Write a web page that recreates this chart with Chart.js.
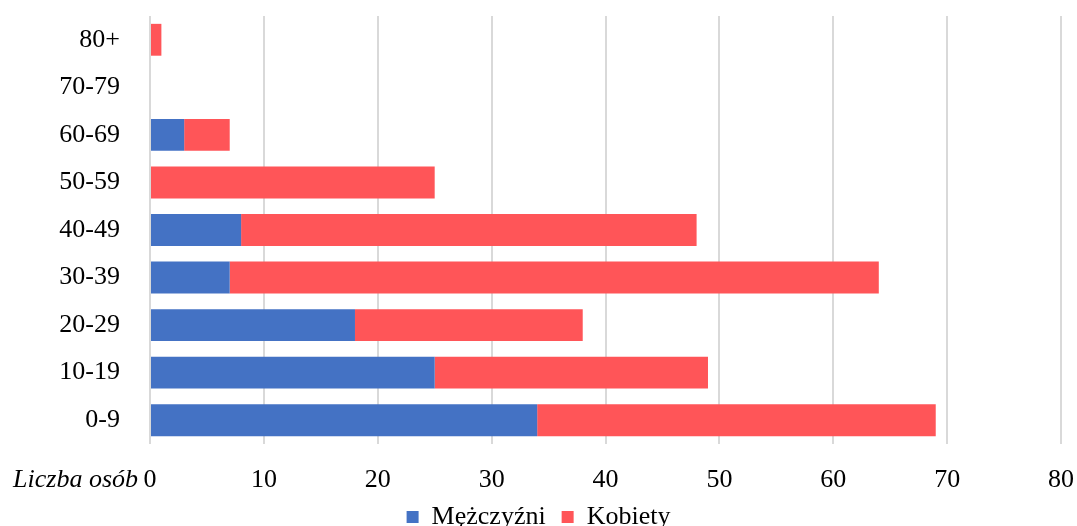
<!DOCTYPE html>
<html>
<head>
<meta charset="utf-8">
<script src="https://cdn.jsdelivr.net/npm/chart.js@4"></script>
<style>
  html, body { margin: 0; padding: 0; background: #fff; }
</style>
</head>
<body>
<canvas id="chart" width="1077" height="526"></canvas>
<script>
// age groups, bottom to top
const ageGroups = ["0-9", "10-19", "20-29", "30-39", "40-49", "50-59", "60-69", "70-79", "80+"];
const men = [34, 25, 18, 7, 8, 0, 3, 0, 0];
const women = [35, 24, 20, 57, 40, 25, 4, 0, 1];
const xTicks = [0, 10, 20, 30, 40, 50, 60, 70, 80];

const FONT = "'Liberation Serif', 'Times New Roman', serif";
const TICK_PAD = 21;

// italic axis caption left of the "0" tick
const axisCaption = {
    id: "axisCaption",
    afterDraw(chart) {
        const ctx = chart.ctx;
        const x = chart.scales.x;
        ctx.save();
        ctx.font = "italic 26px " + FONT;
        ctx.fillStyle = "#000";
        ctx.textAlign = "right";
        ctx.textBaseline = "middle";
        ctx.fillText("Liczba osób", x.getPixelForValue(0) - 12, x.top + TICK_PAD + 15.6);
        ctx.restore();
    }
};

function noEdgePadding(s, right) {
    s.paddingTop = 0;
    s.paddingBottom = 0;
    s.paddingLeft = 0;
    s.paddingRight = right || 0;
}

new Chart(document.getElementById("chart"), {
    type: "bar",
    data: {
        labels: ageGroups,
        datasets: [
            {
                label: "Mężczyźni",
                data: men,
                backgroundColor: "#4472C4",
                categoryPercentage: 1,
                barPercentage: 0.67
            },
            {
                label: "Kobiety",
                data: women,
                backgroundColor: "#FF5558",
                categoryPercentage: 1,
                barPercentage: 0.67
            }
        ]
    },
    options: {
        indexAxis: "y",
        responsive: false,
        animation: false,
        layout: {
            padding: { top: 16, right: 0, bottom: -14, left: 0 }
        },
        plugins: {
            legend: {
                position: "bottom",
                labels: {
                    font: { family: FONT, size: 26 },
                    color: "#000",
                    boxWidth: 12,
                    boxHeight: 12,
                    padding: 16
                }
            },
            tooltip: { enabled: false }
        },
        scales: {
            x: {
                stacked: true,
                min: 0,
                max: 80,
                afterBuildTicks: s => { s.ticks = xTicks.map(v => ({ value: v })); },
                afterFit: s => { s.height = 44; noEdgePadding(s, 16); },
                ticks: {
                    font: { family: FONT, size: 26 },
                    color: "#000",
                    padding: TICK_PAD,
                    maxRotation: 0
                },
                grid: { color: "#d9d9d9", lineWidth: 2, drawTicks: false },
                border: { display: false }
            },
            y: {
                stacked: true,
                reverse: true,
                afterFit: s => { s.width = 150; noEdgePadding(s); },
                ticks: {
                    font: { family: FONT, size: 26 },
                    color: "#000",
                    padding: 22
                },
                grid: { display: false },
                border: { display: false }
            }
        }
    },
    plugins: [axisCaption]
});
</script>
</body>
</html>
